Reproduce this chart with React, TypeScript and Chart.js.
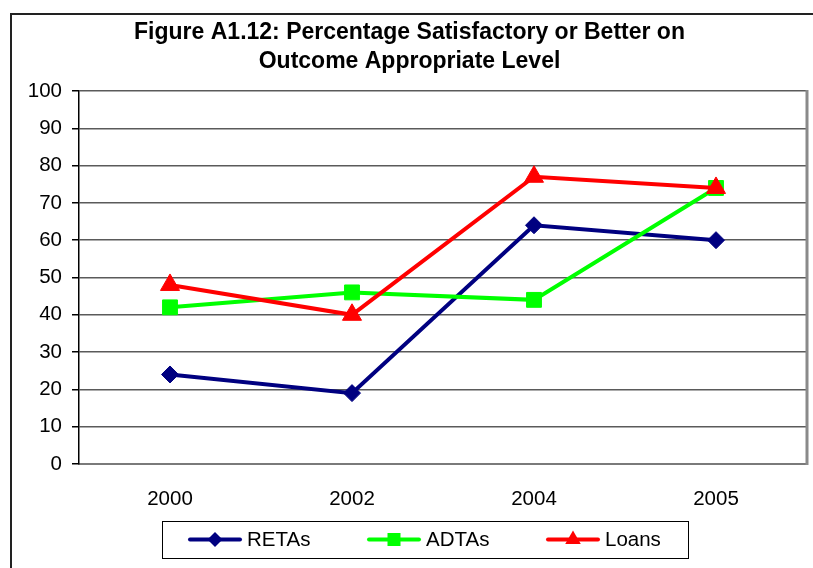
import React, { useEffect, useRef } from "react";
import { Chart, registerables } from "chart.js";

Chart.register(...registerables);

const categories = ["2000", "2002", "2004", "2005"];
const retas = [24, 19, 64, 60];
const adtas = [42, 46, 44, 74];
const loans = [48, 40, 77, 74];
const seriesNames = ["RETAs", "ADTAs", "Loans"];
const titleLines = ["Figure A1.12: Percentage Satisfactory or Better on", "Outcome Appropriate Level"];

const FONT = "'Liberation Sans', Arial, sans-serif";
const TICK_SIZE = 20.5;

const frameAndLegend = {
  id: "frameAndLegend",
  afterDatasetsDraw(chart: any) {
    const { ctx, chartArea } = chart;
    ctx.save();
    ctx.strokeStyle = "#8a8a8a";
    ctx.lineWidth = 3;
    ctx.beginPath();
    ctx.moveTo(chartArea.right, chartArea.top - 1);
    ctx.lineTo(chartArea.right, chartArea.bottom + 1);
    ctx.stroke();
    ctx.restore();
  },
  afterDraw(chart: any) {
    const { ctx } = chart;
    const boxL = 150, boxT = 506, boxW = 526, boxH = 37;
    ctx.save();
    ctx.strokeStyle = "#000";
    ctx.lineWidth = 1;
    ctx.strokeRect(boxL + 0.5, boxT + 0.5, boxW, boxH);
    const cy = boxT + boxH / 2;
    chart.data.datasets.forEach((ds: any, i: number) => {
      const x0 = boxL + 28 + i * 179;
      ctx.strokeStyle = ds.borderColor;
      ctx.fillStyle = ds.borderColor;
      ctx.lineWidth = 4;
      ctx.lineCap = "round";
      ctx.beginPath();
      ctx.moveTo(x0, cy);
      ctx.lineTo(x0 + 50, cy);
      ctx.stroke();
      const mx = x0 + 25;
      ctx.beginPath();
      if (ds.pointStyle === "rectRot") {
        const r = 7.5;
        ctx.moveTo(mx, cy - r);
        ctx.lineTo(mx + r, cy);
        ctx.lineTo(mx, cy + r);
        ctx.lineTo(mx - r, cy);
        ctx.closePath();
      } else if (ds.pointStyle === "rect") {
        const s = 6.5;
        ctx.rect(mx - s, cy - s, 2 * s, 2 * s);
      } else {
        const r = 9;
        ctx.moveTo(mx, cy - r);
        ctx.lineTo(mx + r * 0.866, cy + r * 0.5);
        ctx.lineTo(mx - r * 0.866, cy + r * 0.5);
        ctx.closePath();
      }
      ctx.fill();
      ctx.fillStyle = "#000";
      ctx.font = `${TICK_SIZE}px ${FONT}`;
      ctx.textAlign = "left";
      ctx.textBaseline = "middle";
      ctx.fillText(ds.label, x0 + 57, cy + 1);
    });
    ctx.restore();
  },
};

export default function App() {
  const ref = useRef<HTMLCanvasElement | null>(null);

  useEffect(() => {
    if (!ref.current) return;
    const chart = new Chart(ref.current, {
      type: "line",
      data: {
        labels: categories,
        datasets: [
          {
            label: seriesNames[0],
            data: retas,
            borderColor: "#000080",
            backgroundColor: "#000080",
            borderWidth: 4,
            pointStyle: "rectRot",
            pointRadius: 8.5,
            pointBorderWidth: 1,
            order: 3,
          },
          {
            label: seriesNames[1],
            data: adtas,
            borderColor: "#00ff00",
            backgroundColor: "#00ff00",
            borderWidth: 4,
            pointStyle: "rect",
            pointRadius: 10.5,
            pointBorderWidth: 1,
            order: 2,
          },
          {
            label: seriesNames[2],
            data: loans,
            borderColor: "#ff0000",
            backgroundColor: "#ff0000",
            borderWidth: 4,
            pointStyle: "triangle",
            pointRadius: 11,
            pointBorderWidth: 1,
            order: 1,
          },
        ],
      },
      options: {
        responsive: false,
        animation: false,
        layout: { autoPadding: false, padding: { left: 0, right: 6, top: 0, bottom: 60 } },
        plugins: {
          legend: { display: false },
          tooltip: { enabled: false },
          title: {
            display: true,
            text: titleLines,
            color: "#000",
            font: { family: FONT, size: 23, weight: "bold", lineHeight: 1.26 },
            padding: { top: 3.5, bottom: 14.5 },
          },
        },
        scales: {
          x: {
            offset: true,
            grid: { display: false, drawTicks: false },
            border: { display: true, color: "#7a7a7a", width: 2 },
            ticks: { color: "#000", font: { family: FONT, size: TICK_SIZE }, padding: 23 },
            afterFit: (axis: any) => {
              axis.height = 44;
            },
          },
          y: {
            min: 0,
            max: 100,
            ticks: { stepSize: 10, color: "#000", font: { family: FONT, size: TICK_SIZE }, padding: 10 },
            grid: { color: "#5a5a5a", lineWidth: 1.5, tickColor: "#000", tickLength: 7, drawTicks: true },
            border: { display: true, color: "#000", width: 1.5 },
            afterFit: (axis: any) => {
              axis.width = 67;
            },
          },
        },
      },
      plugins: [frameAndLegend],
    });
    return () => chart.destroy();
  }, []);

  return (
    <div style={{ position: "fixed", left: 0, top: 0, width: 813, height: 568, overflow: "hidden", background: "#fff" }}>
      <div
        style={{
          position: "absolute",
          left: 10,
          top: 13,
          width: 900,
          height: 700,
          borderTop: "2px solid #222",
          borderLeft: "2px solid #222",
        }}
      />
      <canvas ref={ref} width={801} height={553} style={{ position: "absolute", left: 12, top: 15, width: 801, height: 553 }} />
    </div>
  );
}
